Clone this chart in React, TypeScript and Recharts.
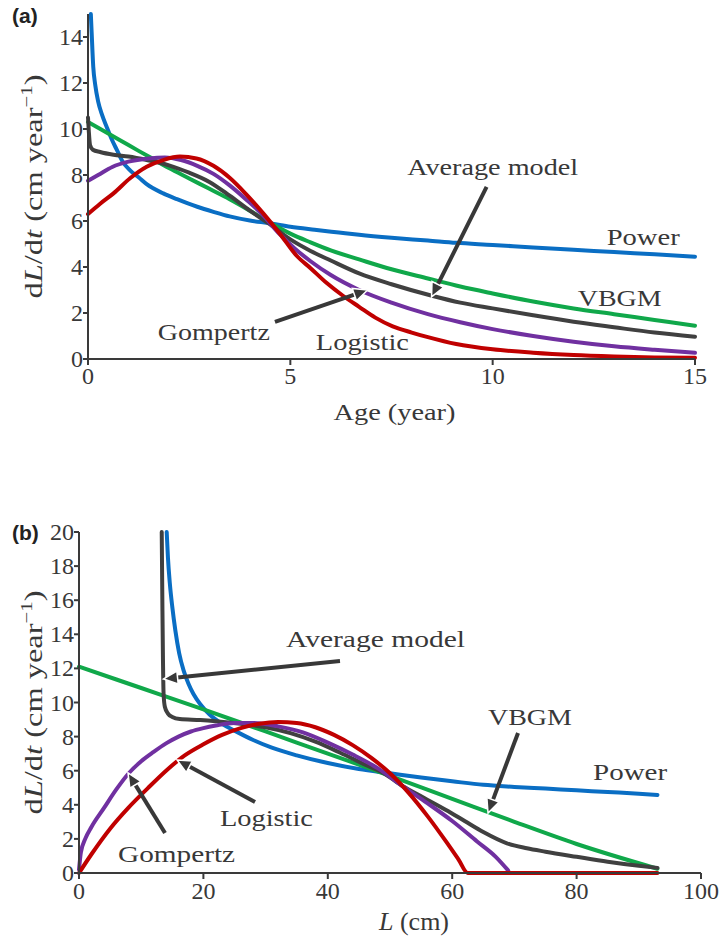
import React from 'react';
import { LineChart, Line, XAxis, YAxis, ReferenceLine, ReferenceDot } from 'recharts';

type Pt = [number, number];

// ---- panel (a): growth rate against age ----
const ageTicks = [0, 5, 10, 15];
const rateTicksA = [0, 2, 4, 6, 8, 10, 12, 14];

const powerA: Pt[] = [
  [0.07, 15], [0.09, 14.2], [0.13, 12.7], [0.18, 11.9], [0.25, 11.2], [0.35, 10.6], [0.46, 10.1],
  [0.6, 9.5], [0.71, 9.1], [0.85, 8.6], [1.04, 8.2], [1.25, 7.9], [1.45, 7.6], [1.86, 7.2],
  [2.2, 6.95], [2.7, 6.62], [3.1, 6.4], [3.5, 6.2], [4, 6.02], [4.5, 5.9], [5, 5.75], [5.6, 5.62],
  [6.2, 5.5], [6.7, 5.4], [7.5, 5.27], [8.4, 5.15], [9.1, 5.05], [10, 4.96], [11, 4.85],
  [12, 4.75], [13, 4.65], [14, 4.55], [15, 4.45],
];
const vbgmA: Pt[] = [
  [0, 10.3], [0.5, 9.8], [1, 9.3], [1.5, 8.8], [2, 8.3], [2.5, 7.85], [3, 7.4], [3.5, 6.95],
  [4, 6.45], [4.5, 5.92], [5, 5.45], [5.5, 5.07], [6, 4.72], [6.7, 4.33], [7.5, 3.9], [8.4, 3.5],
  [9.2, 3.15], [10, 2.85], [11, 2.5], [12, 2.2], [13, 1.95], [14, 1.7], [15, 1.45],
];
const averageA: Pt[] = [
  [0, 10.5], [0.02, 9.9], [0.05, 9.3], [0.12, 9.1], [0.3, 9.0], [0.63, 8.88], [1, 8.8],
  [1.45, 8.65], [2, 8.42], [2.5, 8.1], [3, 7.7], [3.5, 7.1], [4, 6.45], [4.5, 5.85], [5, 5.2],
  [5.5, 4.7], [6, 4.28], [6.7, 3.72], [7.5, 3.25], [8.5, 2.75], [9.2, 2.45], [10, 2.2],
  [11, 1.9], [12, 1.62], [13, 1.38], [14, 1.15], [15, 0.97],
];
const gompertzA: Pt[] = [
  [0, 7.75], [0.25, 8.0], [0.6, 8.35], [1, 8.58], [1.5, 8.72], [1.9, 8.76], [2.3, 8.65],
  [2.7, 8.4], [3.1, 8.05], [3.5, 7.55], [3.9, 6.95], [4.3, 6.3], [4.7, 5.5], [5.1, 4.82],
  [5.5, 4.25], [6, 3.65], [6.7, 3.0], [7.5, 2.45], [8.4, 1.95], [9.2, 1.6], [10, 1.3], [11, 1.0],
  [12, 0.75], [13, 0.55], [14, 0.4], [15, 0.27],
];
const logisticA: Pt[] = [
  [0, 6.3], [0.3, 6.75], [0.63, 7.2], [1.04, 7.86], [1.45, 8.36], [1.86, 8.65], [2.27, 8.8],
  [2.68, 8.72], [3.1, 8.4], [3.5, 7.88], [3.9, 7.18], [4.33, 6.33], [4.74, 5.45], [5.15, 4.5],
  [5.5, 3.95], [5.9, 3.3], [6.3, 2.75], [6.7, 2.27], [7.1, 1.8], [7.53, 1.42], [8, 1.15],
  [8.4, 0.95], [9.1, 0.65], [10, 0.42], [11, 0.27], [12, 0.17], [13, 0.11], [14, 0.07], [15, 0.05],
];

// ---- panel (b): growth rate against length ----
const lengthTicks = [0, 20, 40, 60, 80, 100];
const rateTicksB = [0, 2, 4, 6, 8, 10, 12, 14, 16, 18, 20];

const powerB: Pt[] = [
  [14.1, 20], [14.3, 18.5], [14.6, 17], [15.0, 15.6], [15.5, 14.2], [16.1, 12.9], [16.8, 11.9],
  [17.6, 11.1], [18.4, 10.5], [19.5, 9.9], [21, 9.3], [23, 8.75], [25, 8.35], [28, 7.8],
  [31, 7.35], [35, 6.9], [40, 6.45], [45, 6.1], [50, 5.85], [55, 5.6], [60, 5.38], [65, 5.17],
  [70, 5.05], [75, 4.95], [80, 4.85], [85, 4.75], [90, 4.65], [93, 4.58],
];
const vbgmB: Pt[] = [
  [0, 12.1], [10, 10.85], [20, 9.6], [30, 8.3], [40, 7.0], [50, 5.7], [60, 4.35], [70, 3.0],
  [80, 1.7], [93, 0.25],
];
const averageB: Pt[] = [
  [13.3, 20], [13.4, 16], [13.5, 12.5], [13.6, 10.5], [13.8, 9.75], [14.3, 9.35], [15, 9.15],
  [16.2, 9.03], [19.5, 8.97], [22, 8.9], [26, 8.75], [30, 8.55], [34, 8.2], [38, 7.7], [42, 7.05],
  [46, 6.35], [49, 5.85], [52, 5.1], [55.5, 4.4], [59, 3.7], [62, 3.05], [65, 2.4], [68.8, 1.74],
  [72, 1.45], [75, 1.25], [80, 0.95], [85, 0.66], [90, 0.42], [93, 0.3],
];
const gompertzB: Pt[] = [
  [0, 0.2], [0.3, 1.2], [1, 2.0], [2, 2.7], [4, 3.8], [6, 4.9], [8, 5.85], [10, 6.55], [12, 7.1],
  [14, 7.6], [16, 8.0], [18, 8.3], [20, 8.5], [22, 8.65], [25, 8.8], [28, 8.8], [32, 8.6],
  [36, 8.25], [40, 7.65], [44, 6.95], [48, 6.15], [52, 5.1], [56, 4.1], [60, 3.05], [64, 1.85],
  [67, 0.95], [69, 0.15],
];
const logisticB: Pt[] = [
  [0, 0], [2, 1.1], [5, 2.6], [8, 3.85], [11, 4.95], [14, 6.0], [17, 6.9], [20, 7.55], [23, 8.1],
  [26, 8.5], [29, 8.75], [32, 8.85], [35, 8.8], [38, 8.55], [41, 8.1], [44, 7.5], [47, 6.75],
  [50, 5.85], [53, 4.7], [56, 3.35], [59, 1.85], [61, 0.8], [62.5, 0], [70, 0], [80, 0], [93, 0],
];

// annotation arrows (tail -> head) and label anchors, in data units
const arrowsA: [Pt, Pt][] = [
  [[9.85, 7.48], [8.49, 2.7]],
  [[4.62, 1.61], [6.91, 3.0]],
];
const labelsA: { text: string; at: Pt; w: number }[] = [
  { text: 'Average model', at: [10.0, 8.0], w: 171 },
  { text: 'Power', at: [13.72, 4.96], w: 73 },
  { text: 'VBGM', at: [13.14, 2.3], w: 84 },
  { text: 'Gompertz', at: [3.11, 0.83], w: 112 },
  { text: 'Logistic', at: [6.78, 0.39], w: 93 },
];
const arrowsB: [Pt, Pt][] = [
  [[41.96, 12.43], [13.6, 11.38]],
  [[70.58, 8.21], [65.76, 3.52]],
  [[28.3, 4.16], [15.76, 6.63]],
  [[13.83, 2.35], [7.88, 5.87]],
];
const labelsB: { text: string; at: Pt; w: number }[] = [
  { text: 'Average model', at: [47.67, 13.26], w: 179 },
  { text: 'VBGM', at: [72.5, 8.68], w: 84 },
  { text: 'Power', at: [88.6, 5.45], w: 74 },
  { text: 'Logistic', at: [30.14, 2.76], w: 93 },
  { text: 'Gompertz', at: [15.68, 0.65], w: 117 },
];

const SERIF = '"Liberation Serif", "Times New Roman", Times, serif';
const INK = '#383838';
const COLORS = { power: '#0a6ec4', vbgm: '#10a84a', average: '#404040', gompertz: '#7030a0', logistic: '#c00000' };
const serifStyle: React.CSSProperties = { fontFamily: SERIF };

const rows = (pts: Pt[]) => pts.map(([x, y]) => ({ x, y }));

function ArrowShape(props: any) {
  const { x1, y1, x2, y2 } = props;
  const ang = Math.atan2(y2 - y1, x2 - x1);
  const len = 14;
  const half = 6.5;
  const bx = x2 - len * Math.cos(ang);
  const by = y2 - len * Math.sin(ang);
  const px = -Math.sin(ang) * half;
  const py = Math.cos(ang) * half;
  return (
    <g>
      <line x1={x1} y1={y1} x2={bx} y2={by} stroke={INK} strokeWidth={4} />
      <polygon
        points={`${x2},${y2} ${bx + px},${by + py} ${bx - px},${by - py}`}
        fill={INK}
        stroke="#fff"
        strokeWidth={1.5}
      />
    </g>
  );
}

const textShape = (text: string, w: number) => (p: any) => (
  <text
    x={p.cx}
    y={p.cy}
    textAnchor="middle"
    fontSize={24}
    style={serifStyle}
    fill={INK}
    textLength={w}
    lengthAdjust="spacingAndGlyphs"
  >
    {text}
  </text>
);

function YTick({ x, y, payload }: any) {
  return (
    <text x={x} y={y} dy={8} textAnchor="end" fontSize={24} style={serifStyle} fill={INK}>
      {payload.value}
    </text>
  );
}

function XTick({ x, y, payload }: any) {
  return (
    <text x={x} y={y} dy={18} textAnchor="middle" fontSize={24} style={serifStyle} fill={INK}>
      {payload.value}
    </text>
  );
}

function RateTitle({ viewBox, baseX }: any) {
  const y = viewBox.y + viewBox.height / 2;
  return (
    <text
      transform={`translate(${baseX},${y}) rotate(-90)`}
      textAnchor="middle"
      fontSize={25}
      style={serifStyle}
      fill={INK}
      textLength={224}
      lengthAdjust="spacingAndGlyphs"
    >
      d<tspan fontStyle="italic">L</tspan>/d<tspan fontStyle="italic">t</tspan> (cm year
      <tspan fontSize={16} dy={-10}>−1</tspan>
      <tspan dy={10}>)</tspan>
    </text>
  );
}

function AgeTitle({ viewBox }: any) {
  return (
    <text
      x={viewBox.x + viewBox.width / 2 + 3}
      y={viewBox.y + 61}
      textAnchor="middle"
      fontSize={24}
      style={serifStyle}
      fill={INK}
      textLength={122}
      lengthAdjust="spacingAndGlyphs"
    >
      Age (year)
    </text>
  );
}

function LengthTitle({ viewBox }: any) {
  return (
    <text
      x={viewBox.x + viewBox.width / 2 + 24}
      y={viewBox.y + 57}
      textAnchor="middle"
      fontSize={26}
      style={serifStyle}
      fill={INK}
    >
      <tspan fontStyle="italic">L</tspan> (cm)
    </text>
  );
}

const axisStroke = { stroke: '#3a3a3a', strokeWidth: 2 };

function series(list: { key: string; pts: Pt[]; color: string }[]) {
  return list.map((s) => (
    <Line
      key={s.key}
      data={rows(s.pts)}
      dataKey="y"
      type="monotone"
      stroke={s.color}
      strokeWidth={4}
      strokeLinecap="round"
      dot={false}
      activeDot={false}
      isAnimationActive={false}
    />
  ));
}

function annotations(arrows: [Pt, Pt][], labels: { text: string; at: Pt; w: number }[]) {
  return [
    ...arrows.map(([from, to], i) => (
      <ReferenceLine
        key={`arrow-${i}`}
        segment={[{ x: from[0], y: from[1] }, { x: to[0], y: to[1] }]}
        shape={ArrowShape}
        ifOverflow="visible"
      />
    )),
    ...labels.map((l) => (
      <ReferenceDot
        key={l.text}
        x={l.at[0]}
        y={l.at[1]}
        r={0}
        ifOverflow="visible"
        shape={textShape(l.text, l.w)}
      />
    )),
  ];
}

function PanelA() {
  return (
    <LineChart width={720} height={440} margin={{ top: 14, right: 25, bottom: 11, left: 28 }} style={serifStyle}>
      <XAxis
        type="number"
        dataKey="x"
        domain={[0, 15]}
        ticks={ageTicks}
        tick={<XTick />}
        axisLine={axisStroke}
        tickLine={axisStroke}
        tickSize={6}
        tickMargin={1}
        height={70}
        label={<AgeTitle />}
      />
      <YAxis
        type="number"
        domain={[0, 15]}
        ticks={rateTicksA}
        tick={<YTick />}
        axisLine={axisStroke}
        tickLine={axisStroke}
        tickSize={5}
        tickMargin={0}
        width={60}
        label={<RateTitle baseX={42} />}
      />
      {series([
        { key: 'power', pts: powerA, color: COLORS.power },
        { key: 'vbgm', pts: vbgmA, color: COLORS.vbgm },
        { key: 'average', pts: averageA, color: COLORS.average },
        { key: 'gompertz', pts: gompertzA, color: COLORS.gompertz },
        { key: 'logistic', pts: logisticA, color: COLORS.logistic },
      ])}
      {annotations(arrowsA, labelsA)}
    </LineChart>
  );
}

function PanelB() {
  return (
    <LineChart width={720} height={471} margin={{ top: 62, right: 19, bottom: 6, left: 24 }} style={serifStyle}>
      <XAxis
        type="number"
        dataKey="x"
        domain={[0, 100]}
        ticks={lengthTicks}
        tick={<XTick />}
        axisLine={axisStroke}
        tickLine={axisStroke}
        tickSize={6}
        tickMargin={2}
        height={62}
        label={<LengthTitle />}
      />
      <YAxis
        type="number"
        domain={[0, 20]}
        ticks={rateTicksB}
        tick={<YTick />}
        axisLine={axisStroke}
        tickLine={axisStroke}
        tickSize={5}
        tickMargin={0}
        width={55}
        label={<RateTitle baseX={42} />}
      />
      {series([
        { key: 'power', pts: powerB, color: COLORS.power },
        { key: 'vbgm', pts: vbgmB, color: COLORS.vbgm },
        { key: 'average', pts: averageB, color: COLORS.average },
        { key: 'gompertz', pts: gompertzB, color: COLORS.gompertz },
        { key: 'logistic', pts: logisticB, color: COLORS.logistic },
      ])}
      {annotations(arrowsB, labelsB)}
    </LineChart>
  );
}

const panelTag: React.CSSProperties = {
  position: 'absolute',
  left: 12,
  font: "bold 21px 'Liberation Sans', Arial, sans-serif",
  color: '#222',
  lineHeight: 1,
};

export default function App() {
  return (
    <div
      style={{ position: 'absolute', left: 0, top: 0, width: 720, height: 941, background: '#fff', fontFamily: SERIF }}
    >
      <div style={{ position: 'absolute', left: 0, top: 0 }}>
        <PanelA />
      </div>
      <div style={{ position: 'absolute', left: 0, top: 470 }}>
        <PanelB />
      </div>
      <div style={{ ...panelTag, top: 5 }}>(a)</div>
      <div style={{ ...panelTag, top: 522 }}>(b)</div>
    </div>
  );
}
